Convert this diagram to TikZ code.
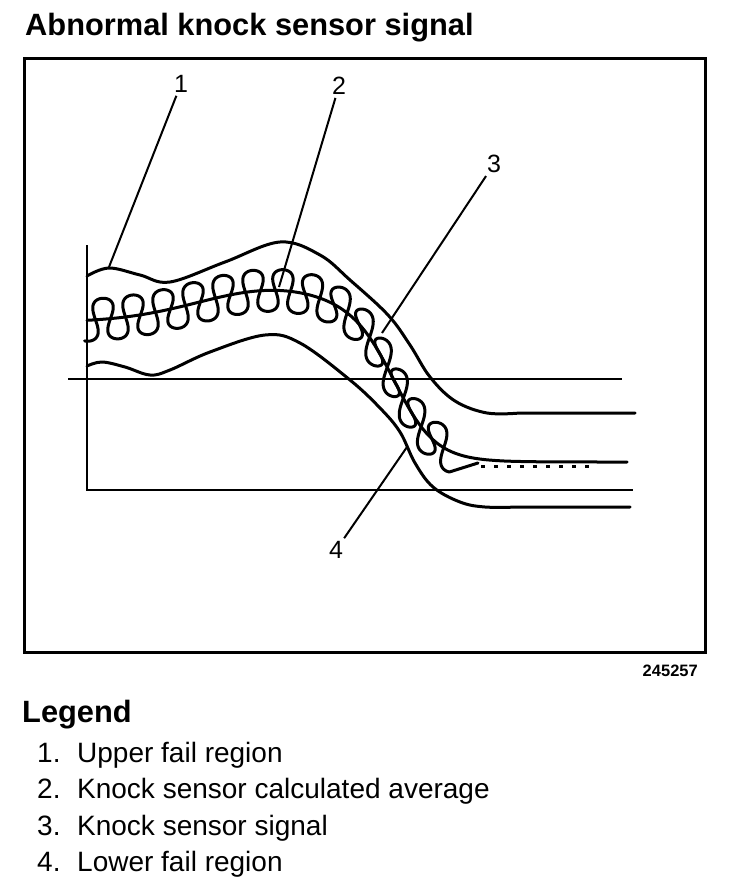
\documentclass[tikz,border=0pt]{standalone}
\usepackage{fontspec}
\setmainfont{Liberation Sans}
\begin{document}
\begin{tikzpicture}[x=1pt,y=-1pt,
  declare function={
    sig(\x)=1/(1+exp(min(9,-\x)));
    gau(\x)=exp(-(\x)*(\x));
    base(\x)=322-32*gau((\x-275)/110)+140*sig((\x-395)/20);
    ph(\x)=(\x-103)*12+720*sig((\x-395)/17);
  },
  curve/.style={line width=3pt, line join=round, line cap=round},
  leader/.style={line width=2pt},
  axisline/.style={line width=2.5pt},
  lbl/.style={inner sep=3pt, font=\fontsize{25}{30}\selectfont},
  legitem/.style={anchor=base west, inner sep=0pt, font=\fontsize{28}{34}\selectfont},
  heading/.style={anchor=base west, inner sep=0pt, font=\bfseries\fontsize{30.8}{36}\selectfont}]
\useasboundingbox (0,0) rectangle (736,886);

% title
\node[heading] (title) at (25,35) {Abnormal knock sensor signal};

% frame
\draw[line width=3pt] (24.5,58) rectangle (705.5,652);
\node[anchor=base east, inner sep=0pt, font=\bfseries\fontsize{16.5}{20}\selectfont] (code) at (698,676) {245257};

% axes
\draw[axisline] (87,245) -- (87,490) -- (633,490);
\draw[axisline] (68,379) -- (622,379);

% upper fail region
\draw[curve] plot[smooth, tension=0.6] coordinates {(87,276) (109,268) (140,275) (170,282) (225,262) (280,242) (320,255) (350,280) (388,315) (410,345) (430,377) (455,401) (487,413) (520,413)} -- (635,413);

% lower fail region
\draw[curve] plot[smooth, tension=0.6] coordinates {(87,366) (102,362) (125,367) (150,375) (170,370) (210,352) (265,335) (300,343) (350,380) (380,408) (400,432) (415,463) (433,487) (460,502) (485,507) (520,507)} -- (630,507);

% calculated average
\draw[curve] plot[domain=87:627, samples=200, variable=\t] ({\t},{base(\t)});

% knock sensor signal
\draw[curve] plot[domain=87:450, samples=1500, variable=\t] ({\t+6*sin(2*ph(\t))},{base(\t)-21*cos(ph(\t))}) -- (478,463);
\draw[line width=3pt, dash pattern=on 4pt off 9pt] (481,466) -- (597,466);

% leaders
\node[lbl] (n1) at (181,84) {1};
\node[lbl] (n2) at (339,86) {2};
\node[lbl] (n3) at (494,164) {3};
\node[lbl] (n4) at (336,550) {4};
\coordinate (e1) at (109,267);
\coordinate (e2) at (279,287);
\coordinate (e3) at (382,333);
\coordinate (e4) at (407,447);
\draw[leader] (n1) -- (e1);
\draw[leader] (n2) -- (e2);
\draw[leader] (n3) -- (e3);
\draw[leader] (n4) -- (e4);

% legend
\node[heading] (leg) at (22,722) {Legend};
\node[legitem] (l1) at (37,762) {\makebox[40pt][l]{1.}Upper fail region};
\node[legitem] (l2) at (37,798) {\makebox[40pt][l]{2.}Knock sensor calculated average};
\node[legitem] (l3) at (37,835) {\makebox[40pt][l]{3.}Knock sensor signal};
\node[legitem] (l4) at (37,871) {\makebox[40pt][l]{4.}Lower fail region};
\end{tikzpicture}
\end{document}
